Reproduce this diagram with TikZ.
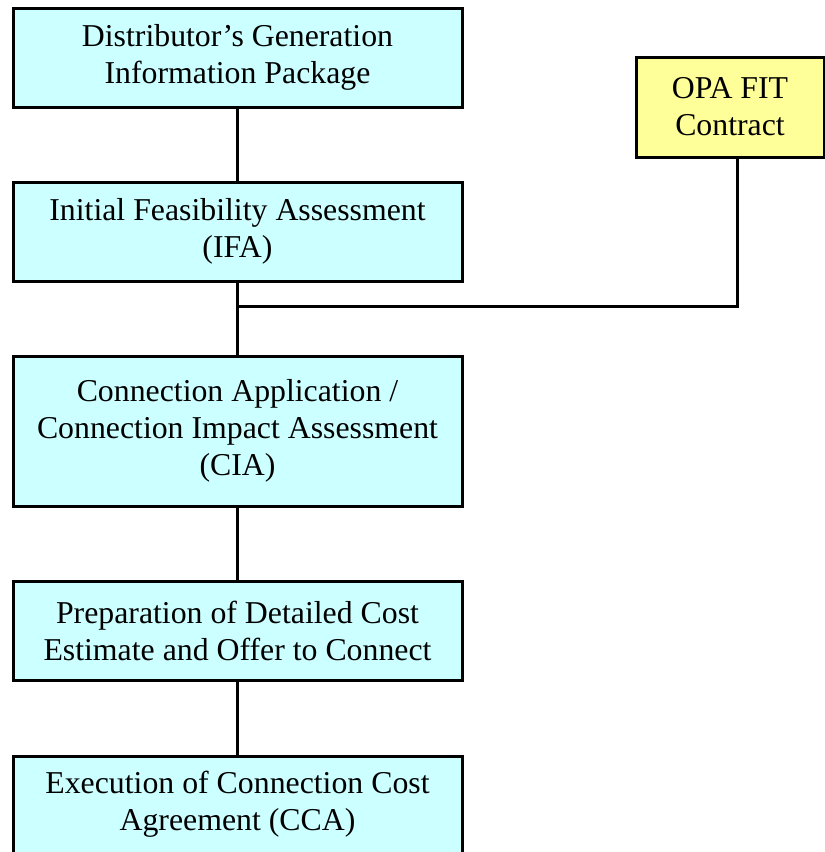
\documentclass[tikz,border=0pt]{standalone}
\usepackage{fontspec}
\setmainfont{Liberation Serif}
\definecolor{boxcyan}{HTML}{CCFFFF}
\definecolor{boxyellow}{HTML}{FFFF99}
\begin{document}
\begin{tikzpicture}[x=1pt,y=-1pt,
  boxfont/.style={font=\fontsize{31.8}{37}\selectfont},
  stepbox/.style={draw=black, line width=3pt, fill=boxcyan, align=center,
    minimum width=449pt, inner sep=0pt, boxfont},
  fitbox/.style={stepbox, fill=boxyellow, minimum width=188pt},
  link/.style={line width=3pt}]
\clip (0,0) rectangle (825,852);
\fill[white] (0,0) rectangle (825,852);
% process steps
\node[stepbox, minimum height=99pt] (dgip) at (237.5,57.5) {Distributor's Generation\\Information Package};
\node[stepbox, minimum height=99pt] (ifa) at (237.5,231.5) {Initial Feasibility Assessment\\(IFA)};
\node[stepbox, minimum height=150pt] (cia) at (237.5,431) {Connection Application /\\Connection Impact Assessment\\(CIA)};
\node[stepbox, minimum height=99pt] (dce) at (237.5,630.5) {Preparation of Detailed Cost\\Estimate and Offer to Connect};
\node[stepbox, minimum height=120pt, anchor=north] (cca) at (237.5,755) {};
\node[boxfont, align=center] (ccatext) at (237.5,804) {Execution of Connection Cost\\Agreement (CCA)};
% contract box
\node[fitbox, minimum height=100pt] (fit) at (730,107) {OPA FIT\\Contract};
% connectors
\coordinate (join) at (dgip.south |- 0,306);
\coordinate (fitdrop) at (737,306);
\draw[link] (dgip) -- (ifa);
\draw[link] (ifa) -- (cia);
\draw[link] (cia) -- (dce);
\draw[link] (dce) -- (cca);
\draw[link] (join) -- (fitdrop) -- (fitdrop |- fit.south);
\end{tikzpicture}
\end{document}
